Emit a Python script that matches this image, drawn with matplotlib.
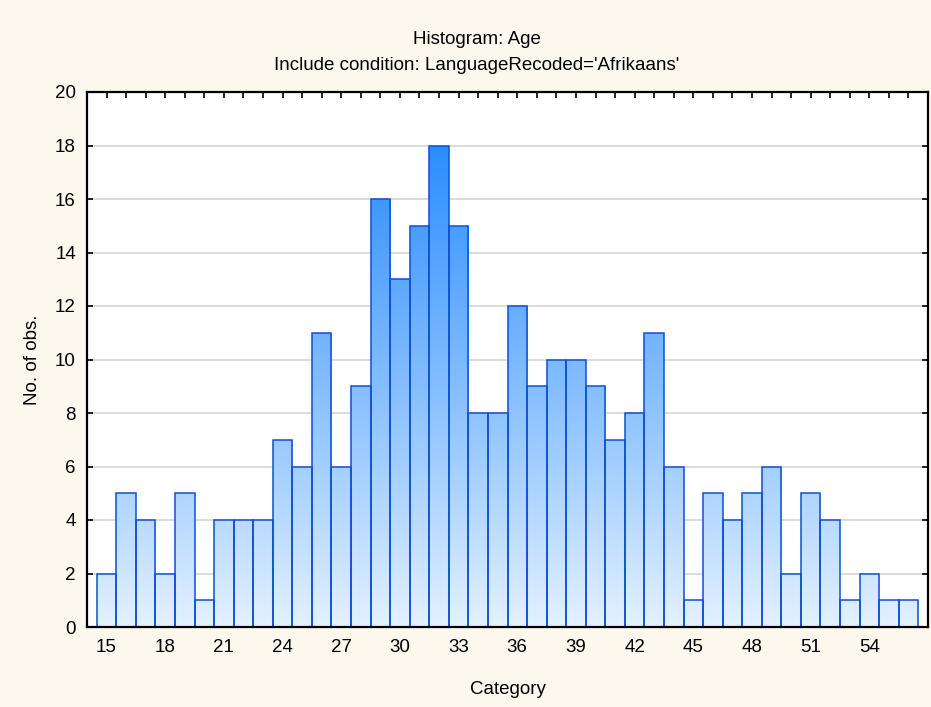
import numpy as np
import matplotlib
matplotlib.use("Agg")
import matplotlib.pyplot as plt
from matplotlib.colors import LinearSegmentedColormap
from matplotlib.ticker import MultipleLocator

plt.rcParams['font.family'] = ['Liberation Sans', 'DejaVu Sans']

# ages (bin centres) and counts
ages = list(range(15, 57))
counts = [2, 5, 4, 2, 5, 1, 4, 4, 4, 7, 6, 11, 6, 9, 16, 13, 15, 18, 15, 8,
          8, 12, 9, 10, 10, 9, 7, 8, 11, 6, 1, 5, 4, 5, 6, 2, 5, 4, 1, 2, 1, 1]
major_ticks = list(range(15, 57, 3))
y_ticks = list(range(0, 21, 2))

fig = plt.figure(figsize=(9.31, 7.07), dpi=100, facecolor='#fdf8ee')
ax = fig.add_axes([87 / 931, 1 - 627 / 707, (928 - 87) / 931, (627 - 92) / 707])
ax.set_facecolor('white')

# horizontal grid behind bars
for y in y_ticks[1:-1]:
    ax.axhline(y, color='#d9d9d9', lw=1.3, zorder=0)

# bars: outline only, gradient image clipped to each bar
bars = ax.bar(ages, counts, width=1.0, facecolor='none', edgecolor='#0c50d6',
              linewidth=1.1, zorder=3)
cmap = LinearSegmentedColormap.from_list('blu', ['#e4f1ff', '#9ccbff', '#5aa6ff', '#1583ff'])
grad = np.linspace(0, 1, 256).reshape(-1, 1)
for b in bars:
    im = ax.imshow(grad, cmap=cmap, origin='lower', aspect='auto',
                   extent=(14, 57, 0, 20), zorder=2, interpolation='bilinear')
    im.set_clip_path(b)

ax.set_xlim(14, 57)
ax.set_ylim(0, 20)

ax.set_xticks(major_ticks)
ax.xaxis.set_minor_locator(MultipleLocator(1))
ax.set_yticks(y_ticks)
ax.tick_params(axis='both', which='both', direction='in', top=True, right=True,
               length=4, width=1.2, colors='black', labelsize=13.5)
ax.tick_params(axis='x', which='major', pad=9)
ax.tick_params(axis='y', which='major', pad=8)
for s in ax.spines.values():
    s.set_linewidth(1.6)
    s.set_zorder(5)

ax.set_xlabel('Category', fontsize=13.5, labelpad=18)
ax.set_ylabel('No. of obs.', fontsize=13.5, labelpad=10)

fig.text(477 / 931, 1 - 40 / 707, 'Histogram: Age', ha='center', va='center', fontsize=13.5)
fig.text(477 / 931, 1 - 66 / 707, "Include condition: LanguageRecoded='Afrikaans'",
         ha='center', va='center', fontsize=13.5)

fig.savefig('out.png', dpi=100, facecolor=fig.get_facecolor())
